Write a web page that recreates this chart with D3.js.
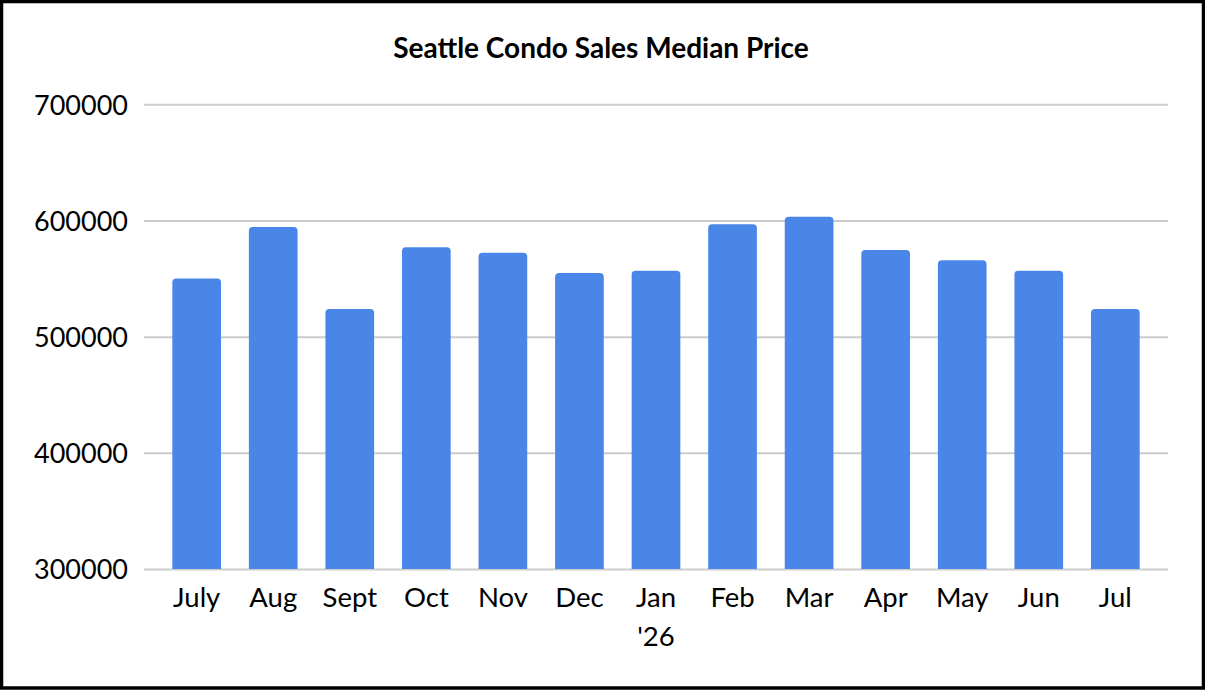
<!DOCTYPE html>
<html>
<head>
<meta charset="utf-8">
<script src="https://cdn.jsdelivr.net/npm/d3@7"></script>
<style>
  html, body { margin: 0; padding: 0; background: #fff; }
  svg { display: block; }
  text { font-family: Lato, "Open Sans", sans-serif; fill: #000; }
</style>
</head>
<body>
<svg id="chart" width="1205" height="691"></svg>
<script>
const categories = ["July", "Aug", "Sept", "Oct", "Nov", "Dec", "Jan\n'26", "Feb", "Mar", "Apr", "May", "Jun", "Jul"];
const medianPrice = [550000, 594400, 523800, 576900, 572300, 554800, 556800, 596700, 603300, 574600, 565700, 556800, 523800];
const yTicks = [300000, 400000, 500000, 600000, 700000];
const title = "Seattle Condo Sales Median Price";

const W = 1205, H = 691;
const svg = d3.select("#chart");

svg.append("rect").attr("x", 1.5).attr("y", 1.5).attr("width", W - 3).attr("height", H - 4.5)
  .attr("fill", "#fff").attr("stroke", "#000").attr("stroke-width", 3.5);

const plot = { left: 144, right: 1168, top: 104.3, bottom: 569 };

const x = d3.scaleBand().domain(categories).range([plot.left, plot.right])
  .paddingInner(0.364).paddingOuter(0.37);
const y = d3.scaleLinear().domain([300000, 700000]).range([plot.bottom, plot.top]);

// gridlines and y labels
const yAxis = d3.axisLeft(y).tickValues(yTicks).tickSize(-(plot.right - plot.left)).tickPadding(16).tickFormat(d3.format("d"));
const gy = svg.append("g").attr("transform", `translate(${plot.left},0)`).call(yAxis);
gy.select(".domain").remove();
gy.selectAll(".tick line").attr("stroke", "#cccccc").attr("stroke-width", 2);
gy.selectAll(".tick text").attr("font-size", 27).attr("fill", "#000")
  .attr("font-family", "Lato, 'Open Sans', sans-serif").attr("dy", "0.36em");

// bars with rounded top corners
const r = 4;
svg.append("g").selectAll("path").data(categories).join("path")
  .attr("fill", "#4a86e8")
  .attr("d", (c, i) => {
    const x0 = x(c), w = x.bandwidth(), yt = y(medianPrice[i]), yb = y(300000);
    return `M${x0},${yb}V${yt + r}Q${x0},${yt} ${x0 + r},${yt}H${x0 + w - r}Q${x0 + w},${yt} ${x0 + w},${yt + r}V${yb}Z`;
  });

// x axis labels
const xAxis = d3.axisBottom(x).tickSize(0).tickPadding(0).tickFormat(() => "");
const gx = svg.append("g").attr("transform", `translate(0,${plot.bottom})`).call(xAxis);
gx.select(".domain").remove();
gx.selectAll(".tick").each(function(c) {
  const t = d3.select(this).append("text").attr("text-anchor", "middle")
    .attr("font-size", 27.5).attr("fill", "#000").attr("font-family", "Lato, 'Open Sans', sans-serif");
  c.split("\n").forEach((line, k) => {
    t.append("tspan").attr("x", 0).attr("y", 38 + k * 39).text(line);
  });
});

svg.append("text").attr("x", 601).attr("y", 58).attr("text-anchor", "middle")
  .attr("font-size", 28).attr("font-weight", "bold").text(title);
</script>
</body>
</html>
